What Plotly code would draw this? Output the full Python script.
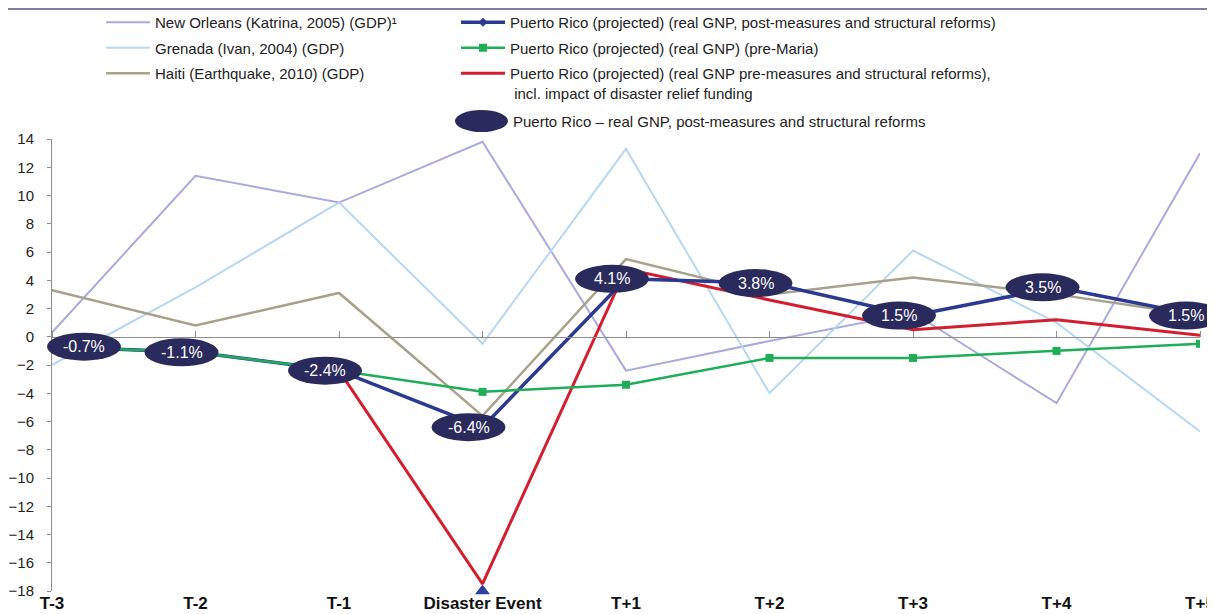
import plotly.graph_objects as go

# periods around the disaster event
periods = ["T-3", "T-2", "T-1", "Disaster Event", "T+1", "T+2", "T+3", "T+4", "T+5"]

# real growth, %
new_orleans = [0.3, 11.4, 9.5, 13.8, -2.4, -0.3, 1.7, -4.7, 13.0]
grenada = [-2.0, 3.5, 9.5, -0.5, 13.3, -4.0, 6.1, 1.0, -6.7]
haiti = [3.3, 0.8, 3.1, -5.6, 5.5, 3.0, 4.2, 3.0, 1.5]
pr_post_reforms = [-0.7, -1.1, -2.4, -6.4, 4.1, 3.8, 1.5, 3.5, 1.5]
pr_pre_maria = [-0.7, -1.1, -2.4, -3.9, -3.4, -1.5, -1.5, -1.0, -0.5]
pr_relief = [None, None, -2.4, -17.5, 4.8, 2.6, 0.5, 1.2, 0.1]

Y_MIN, Y_MAX = -18, 14

# the page body adds an 8px margin, so the figure is made that much smaller
OFF = 8
W, H = 1215 - OFF, 614 - OFF
PLOT_L, PLOT_R, PLOT_T, PLOT_B = 52, 1200, 139, 591   # in window pixels
M_L, M_T = PLOT_L - OFF, PLOT_T - OFF
M_R, M_B = W - (PLOT_R - OFF), H - (PLOT_B - OFF)
PLOT_W = PLOT_R - PLOT_L
PLOT_H = PLOT_B - PLOT_T

FONT = "Liberation Sans, Arial, sans-serif"
NAVY = "#2b2a5c"


def px_to_paper_x(px):
    return (px - PLOT_L) / PLOT_W


def px_to_paper_y(py):
    return 1 - (py - PLOT_T) / PLOT_H


fig = go.Figure()


def add_line(name, y, color, width, legend, rank, marker=None):
    fig.add_trace(go.Scatter(
        x=periods, y=y, name=name,
        mode="lines+markers" if marker else "lines",
        line=dict(color=color, width=width),
        marker=marker,
        legend=legend, legendrank=rank, legendgroup=name,
        connectgaps=False,
    ))


add_line("New Orleans (Katrina, 2005) (GDP)\u00b9", new_orleans, "#a9a9dd", 2, "legend", 1)
add_line("Grenada (Ivan, 2004) (GDP)", grenada, "#b7d7ef", 2, "legend", 2)
add_line("Haiti (Earthquake, 2010) (GDP)", haiti, "#a5a18d", 2.5, "legend", 3)
add_line("Puerto Rico (projected) (real GNP pre-measures and structural reforms),<br> incl. impact of disaster relief funding",
         pr_relief, "#d21f2f", 3, "legend2", 6)
add_line("Puerto Rico (projected) (real GNP, post-measures and structural reforms)",
         pr_post_reforms, "#2b3990", 3.5, "legend2", 4,
         marker=dict(symbol="diamond", size=7, color="#2b3990"))
add_line("Puerto Rico (projected) (real GNP) (pre-Maria)", pr_pre_maria, "#1fad57", 2.5, "legend2", 5,
         marker=dict(symbol="square", size=8, color="#1fad57"))

# disaster marker on the bottom axis (overlay axis also carries the zero line)
fig.add_trace(go.Scatter(
    x=[periods[3]], y=[Y_MIN], mode="markers", xaxis="x2",
    marker=dict(symbol="triangle-up", size=13, color="#2e3f9e"),
    cliponaxis=False, showlegend=False, hoverinfo="skip",
))

# value badges for the post-reform path
n = len(periods)
half_w, half_h = 37, 14
for i, v in enumerate(pr_post_reforms):
    bx = PLOT_L + i / (n - 1) * PLOT_W - 14
    bx = max(bx, PLOT_L - 5 + half_w)
    by = PLOT_T + (Y_MAX - v) / (Y_MAX - Y_MIN) * PLOT_H
    fig.add_shape(type="circle", xref="paper", yref="paper",
                  x0=px_to_paper_x(bx - half_w), x1=px_to_paper_x(bx + half_w),
                  y0=px_to_paper_y(by + half_h), y1=px_to_paper_y(by - half_h),
                  fillcolor=NAVY, line=dict(width=0), layer="above")
    fig.add_annotation(x=px_to_paper_x(bx), y=px_to_paper_y(by), xref="paper", yref="paper",
                       xanchor="center", yanchor="middle", text=f"{v:.1f}%", showarrow=False,
                       font=dict(family="Liberation Sans Narrow, " + FONT, size=16, color="white"))

# legend entry for the badges
lx0, ly = 455, 121
fig.add_shape(type="circle", xref="paper", yref="paper",
              x0=px_to_paper_x(lx0), x1=px_to_paper_x(lx0 + 53),
              y0=px_to_paper_y(ly + 11), y1=px_to_paper_y(ly - 11),
              fillcolor=NAVY, line=dict(width=0))
fig.add_annotation(x=px_to_paper_x(lx0 + 56), y=px_to_paper_y(ly), xref="paper", yref="paper",
                   xanchor="left", yanchor="middle", showarrow=False,
                   text="Puerto Rico \u2013 real GNP, post-measures and structural reforms",
                   font=dict(family=FONT, size=15, color="#222"))

# rule at the top of the page
fig.add_shape(type="line", xref="paper", yref="paper",
              x0=px_to_paper_x(OFF), x1=px_to_paper_x(1210),
              y0=px_to_paper_y(OFF + 1), y1=px_to_paper_y(OFF + 1),
              line=dict(color="#55557f", width=1.5))

legend_style = dict(
    font=dict(family=FONT, size=15, color="#222"),
    bgcolor="rgba(0,0,0,0)", borderwidth=0, itemwidth=44,
    tracegroupgap=3, valign="top", yanchor="top", xanchor="left",
    traceorder="grouped",
)

fig.update_layout(
    width=W, height=H,
    margin=dict(l=M_L, r=M_R, t=M_T, b=M_B, autoexpand=False),
    paper_bgcolor="white", plot_bgcolor="white",
    font=dict(family=FONT, size=15, color="#222"),
    legend=dict(x=px_to_paper_x(101), y=px_to_paper_y(6), **legend_style),
    legend2=dict(x=px_to_paper_x(456), y=px_to_paper_y(6), **legend_style),
    xaxis=dict(
        type="category", categoryorder="array", categoryarray=periods,
        range=[0, n - 1], showgrid=False, zeroline=False, showline=False,
        ticks="", ticklabelstandoff=0,
        tickfont=dict(family=FONT, size=17, color="#111", weight="bold"),
    ),
    xaxis2=dict(
        type="category", categoryorder="array", categoryarray=periods,
        overlaying="x", matches="x", anchor="free", side="top",
        position=(0 - Y_MIN) / (Y_MAX - Y_MIN),
        showgrid=False, zeroline=False, showline=True, linecolor="#8c8c8c", linewidth=1,
        ticks="outside", ticklen=6, tickcolor="#8c8c8c", showticklabels=False,
    ),
    yaxis=dict(
        range=[Y_MIN, Y_MAX], dtick=2, showgrid=False, zeroline=False,
        showline=True, linecolor="#8c8c8c", linewidth=1,
        ticks="outside", ticklen=4, tickcolor="#8c8c8c", ticklabelstandoff=10,
        tickfont=dict(family=FONT, size=15, color="#222"),
    ),
    showlegend=True,
)

fig.write_html("out.html")
